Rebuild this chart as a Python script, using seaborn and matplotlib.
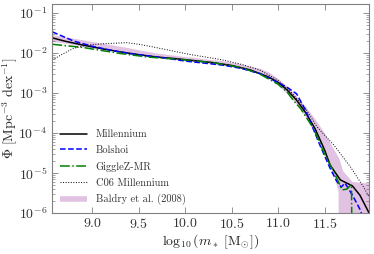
import numpy as np
import seaborn as sns
import matplotlib.pyplot as plt
from matplotlib.lines import Line2D
from matplotlib.ticker import LogLocator, NullLocator

# values, log10(phi) against log10(stellar mass)
mil_m = [8.57, 8.7, 8.9, 9.1, 9.3, 9.5, 9.7, 9.9, 10.1, 10.3, 10.5, 10.7, 10.9, 11.0,
         11.1, 11.2, 11.3, 11.4, 11.5, 11.56, 11.67, 11.8, 11.88, 11.98]
mil_phi = [-1.62, -1.70, -1.80, -1.89, -1.97, -2.04, -2.10, -2.14, -2.19, -2.24, -2.31, -2.42,
           -2.60, -2.73, -2.93, -3.18, -3.50, -3.90, -4.42, -4.80, -5.17, -5.32, -5.55, -6.0]

bol_m = [8.57, 8.7, 8.8, 9.0, 9.2, 9.4, 9.6, 9.8, 10.0, 10.2, 10.4, 10.6, 10.8, 10.9, 11.0,
         11.1, 11.2, 11.3, 11.45, 11.56, 11.63, 11.68, 11.72, 11.8, 11.88, 11.93]
bol_phi = [-1.47, -1.60, -1.70, -1.83, -1.93, -2.01, -2.07, -2.13, -2.20, -2.25, -2.30, -2.38,
           -2.51, -2.62, -2.74, -2.86, -3.02, -3.45, -4.30, -4.88, -5.20, -5.35, -5.25, -5.55,
           -5.90, -6.20]

gig_m = [8.57, 8.9, 9.3, 9.6, 10.0, 10.3, 10.6, 10.8, 11.0, 11.1, 11.17, 11.24, 11.38, 11.49,
         11.6, 11.69, 11.74, 11.78, 11.79, 11.8]
gig_phi = [-1.78, -1.86, -2.01, -2.10, -2.17, -2.24, -2.36, -2.52, -2.78, -2.98, -3.20, -3.38,
           -3.88, -4.47, -4.97, -5.42, -5.40, -5.30, -5.30, -8.0]

c06_m = [8.57, 8.7, 8.8, 8.95, 9.1, 9.37, 9.5, 9.64, 9.85, 10.04, 10.4, 10.6, 10.8, 11.0,
         11.15, 11.3, 11.42, 11.6, 11.78, 11.92, 11.98]
c06_phi = [-2.17, -2.00, -1.88, -1.80, -1.77, -1.74, -1.78, -1.84, -1.94, -2.03, -2.17, -2.28,
           -2.42, -2.68, -3.00, -3.40, -3.85, -4.30, -4.85, -5.35, -5.60]

bal_m = [8.57, 8.7, 8.8, 8.9, 9.0, 9.1, 9.2, 9.3, 9.4, 9.5, 9.6, 9.7, 9.8, 9.9, 10.0, 10.1,
         10.2, 10.3, 10.4, 10.5, 10.6, 10.7, 10.8, 10.9, 11.0, 11.1, 11.2, 11.3, 11.4, 11.5,
         11.6, 11.65, 11.66, 11.7, 11.8, 11.9, 11.98]
bal_lo = [-1.72, -1.76, -1.80, -1.84, -1.88, -1.91, -1.95, -1.98, -2.02, -2.06, -2.09, -2.12,
          -2.14, -2.17, -2.20, -2.22, -2.25, -2.28, -2.31, -2.35, -2.40, -2.46, -2.53, -2.63,
          -2.80, -3.02, -3.28, -3.60, -3.98, -4.45, -5.05, -5.45, -8.0, -8.0, -8.0, -8.0, -8.0]
bal_hi = [-1.55, -1.60, -1.64, -1.68, -1.72, -1.76, -1.80, -1.84, -1.88, -1.93, -1.97, -2.01,
          -2.04, -2.07, -2.10, -2.12, -2.15, -2.18, -2.20, -2.24, -2.28, -2.33, -2.39, -2.48,
          -2.64, -2.84, -3.08, -3.35, -3.65, -4.00, -4.40, -4.60, -4.65, -4.95, -5.22, -5.25,
          -5.25]

sns.set_style("ticks", {"xtick.direction": "in", "ytick.direction": "in",
                        "xtick.top": True, "ytick.right": True,
                        "axes.edgecolor": "0.5"})
plt.rcParams["font.family"] = "serif"
plt.rcParams["font.serif"] = ["cmr10", "DejaVu Serif"]
plt.rcParams["mathtext.fontset"] = "cm"
plt.rcParams["axes.unicode_minus"] = False
plt.rcParams["axes.formatter.use_mathtext"] = True
plt.rcParams["xtick.color"] = "0.5"
plt.rcParams["ytick.color"] = "0.5"
plt.rcParams["xtick.labelcolor"] = "0.2"
plt.rcParams["ytick.labelcolor"] = "0.2"

fig, ax = plt.subplots(figsize=(3.74, 2.54), dpi=100)
fig.subplots_adjust(left=0.139, right=0.987, top=0.984, bottom=0.161)

band_col = (0.55, 0.05, 0.55, 0.25)
ax.fill_between(bal_m, 10 ** np.array(bal_lo), 10 ** np.array(bal_hi),
                color=band_col, lw=0)

sns.lineplot(x=mil_m, y=10 ** np.array(mil_phi), ax=ax, color="black", lw=1.1,
             sort=False, estimator=None)
sns.lineplot(x=bol_m, y=10 ** np.array(bol_phi), ax=ax, color="blue", lw=1.1,
             linestyle="--", sort=False, estimator=None)
sns.lineplot(x=gig_m, y=10 ** np.array(gig_phi), ax=ax, color="green", lw=1.1,
             linestyle="-.", sort=False, estimator=None)
sns.lineplot(x=c06_m, y=10 ** np.array(c06_phi), ax=ax, color="black", lw=0.7,
             linestyle=":", sort=False, estimator=None)

ax.set_yscale("log")
ax.set_xlim(8.566, 11.98)
ax.set_ylim(1e-6, 10 ** -0.775)
ax.set_xticks([9.0, 9.5, 10.0, 10.5, 11.0, 11.5])
ax.xaxis.set_minor_locator(NullLocator())
ax.yaxis.set_major_locator(LogLocator(base=10, numticks=10))
ax.yaxis.set_minor_locator(LogLocator(base=10, subs=np.arange(2, 10), numticks=10))
ax.tick_params(which="major", length=4, width=0.6, labelsize=10)
ax.tick_params(which="minor", length=2, width=0.5)
ax.tick_params(axis="x", pad=3)

ax.set_xlabel(r"$\log_{10}(m_*\ [\mathrm{M}_{\odot}])$", fontsize=10, labelpad=1)
ax.set_ylabel(r"$\Phi\ [\mathrm{Mpc}^{-3}\ \mathrm{dex}^{-1}]$", fontsize=10)
ax.yaxis.set_label_coords(-0.10, 0.5)

handles = [Line2D([], [], color="black", lw=1.1),
           Line2D([], [], color="blue", lw=1.1, ls="--"),
           Line2D([], [], color="green", lw=1.1, ls="-."),
           Line2D([], [], color="black", lw=0.7, ls=":"),
           Line2D([], [], color=band_col, lw=4, solid_capstyle="butt")]
labels = ["Millennium", "Bolshoi", "GiggleZ-MR", "C06 Millennium", "Baldry et al. (2008)"]
leg = ax.legend(handles, labels, loc="lower left", frameon=False, fontsize=7.5,
                handlelength=2.6, handletextpad=0.85, labelspacing=0.62,
                borderaxespad=0.4, borderpad=0.35)
for t in leg.get_texts():
    t.set_color("0.2")

fig.savefig("out.png", dpi=100)
